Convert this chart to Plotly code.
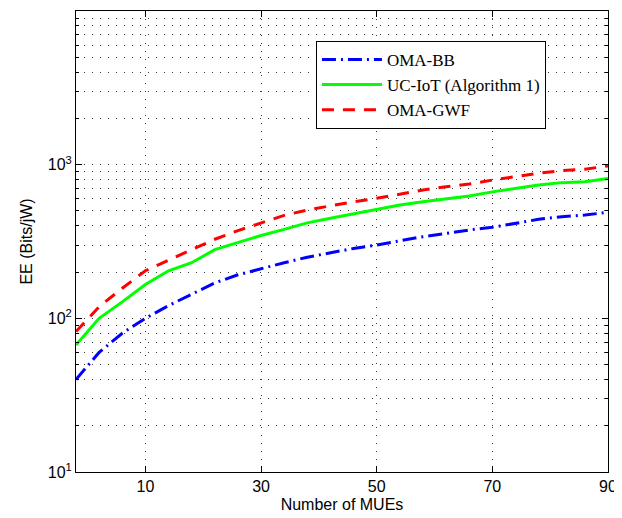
import plotly.graph_objects as go

# ---- data ----
num_mues = [-2, 2, 6, 10, 14, 18, 22, 26, 30, 34, 38, 42, 46, 50,
            54, 58, 62, 66, 70, 74, 78, 82, 86, 90]
ee_oma_bb = [40, 60, 80, 100, 121, 143, 170, 192, 211, 230, 250, 267, 285, 300,
             320, 340, 357, 376, 391, 415, 441, 458, 470, 490]
ee_uc_iot = [67, 100, 128, 166, 204, 230, 280, 312, 346, 379, 418, 448, 477, 512,
             546, 574, 600, 625, 665, 702, 738, 764, 775, 812]
ee_oma_gwf = [82, 119, 157, 204, 239, 278, 327, 372, 415, 468, 507, 541, 574, 604,
              645, 684, 719, 748, 794, 835, 879, 914, 934, 981]

series_names = ["OMA-BB", "UC-IoT (Algorithm 1)", "OMA-GWF"]
x_tick_vals = [10, 30, 50, 70, 90]
y_tick_vals = [10, 100, 1000]
y_tick_text = ["10<sup>1</sup>", "10<sup>2</sup>", "10<sup>3</sup>"]
y_minor_vals = [m * 10 ** e for e in (1, 2, 3) for m in range(2, 10)]

fig = go.Figure()
fig.add_trace(go.Scatter(x=num_mues, y=ee_oma_bb, mode="lines", name=series_names[0],
                         line=dict(color="#0000FF", width=3, dash="14px,5px,2px,5px")))
fig.add_trace(go.Scatter(x=num_mues, y=ee_uc_iot, mode="lines", name=series_names[1],
                         line=dict(color="#00FF00", width=3)))
fig.add_trace(go.Scatter(x=num_mues, y=ee_oma_gwf, mode="lines", name=series_names[2],
                         line=dict(color="#FF0000", width=3, dash="12px,9px")))

grid_col = "#3a3a3a"
# the page body has an 8px margin, so the figure is sized to fit inside the window
fig.update_layout(
    width=614, height=510,
    margin=dict(l=68, r=14, t=3, b=46, autoexpand=False),
    plot_bgcolor="white", paper_bgcolor="white",
    font=dict(family="Liberation Sans, Arial, sans-serif", size=16, color="black"),
    showlegend=True,
    legend=dict(
        x=0.451, y=0.935, xanchor="left", yanchor="top",
        bgcolor="white", bordercolor="black", borderwidth=1,
        font=dict(family="Liberation Serif, Times New Roman, serif", size=17, color="black"),
        itemwidth=60, tracegroupgap=0, entrywidth=176, entrywidthmode="pixels",
    ),
)
fig.update_xaxes(
    range=[-2, 90], tickvals=x_tick_vals, automargin=False,
    showline=True, linecolor="black", linewidth=1, mirror="all",
    ticks="inside", ticklen=6, tickcolor="black",
    showgrid=True, gridcolor=grid_col, gridwidth=1, griddash="1px,7px",
    zeroline=False,
    title=dict(text="Number of MUEs", font=dict(size=16), standoff=4),
    tickfont=dict(size=16),
)
fig.update_yaxes(
    type="log", range=[1, 4], automargin=False,
    tickvals=y_tick_vals, ticktext=y_tick_text,
    showline=True, linecolor="black", linewidth=1, mirror="all",
    ticks="inside", ticklen=6, tickcolor="black",
    showgrid=True, gridcolor=grid_col, gridwidth=1, griddash="1px,7px",
    minor=dict(tickmode="array", tickvals=y_minor_vals, ticks="inside", ticklen=3,
               tickcolor="black", showgrid=True, gridcolor=grid_col, gridwidth=1,
               griddash="1px,7px"),
    zeroline=False,
    title=dict(text="EE (Bits/jW)", font=dict(size=16), standoff=11),
    tickfont=dict(size=16),
)

fig.write_html("out.html")
